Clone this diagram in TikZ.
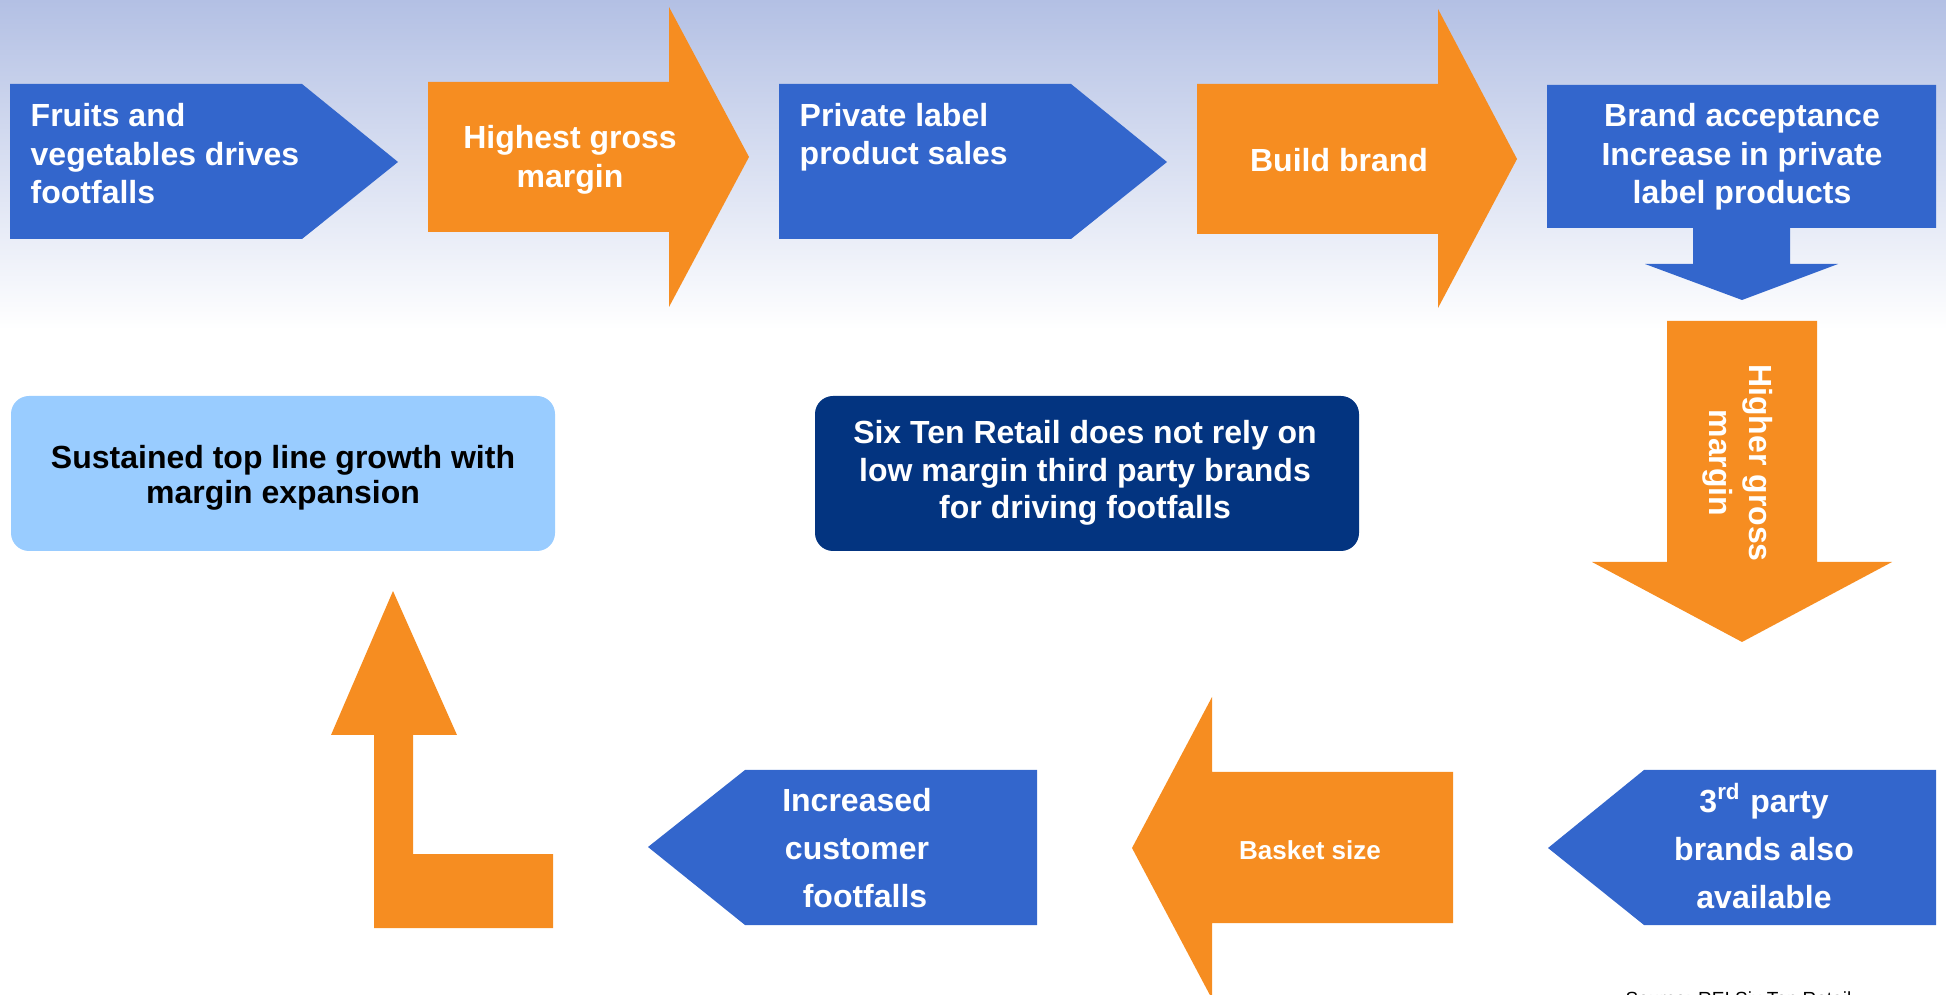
\documentclass[tikz,border=0pt]{standalone}
\usepackage{fontspec}
\setmainfont{Liberation Sans}
\usepackage{tikz}
\usetikzlibrary{positioning}
\definecolor{rblue}{RGB}{51,102,204}
\definecolor{rorange}{RGB}{246,141,33}
\definecolor{rnavy}{RGB}{3,52,128}
\definecolor{rlight}{RGB}{153,204,255}
\definecolor{rsky}{RGB}{179,192,228}
\begin{document}
\begin{tikzpicture}[x=0.01cm,y=-0.01cm,
    txt/.style={text=white,inner sep=0pt,align=center,font=\bfseries\fontsize{9.1}{10.95}\selectfont},
    wide/.style={font=\bfseries\fontsize{9.1}{13.6}\selectfont},
    box/.style={rounded corners=0.18cm}]
    \useasboundingbox (0,0) rectangle (1946,995);
    \clip (0,0) rectangle (1946,995);
    \fill[top color=rsky,bottom color=white] (0,0) rectangle (1946,330);
    % top row
    \fill[rblue] (10,84) -- (302,84) -- (398,162) -- (302,239) -- (10,239) -- cycle;
    \fill[rorange] (428,82) -- (669,82) -- (669,7) -- (749,157) -- (669,307) -- (669,232) -- (428,232) -- cycle;
    \fill[rblue] (779,84) -- (1071,84) -- (1167,162) -- (1071,239) -- (779,239) -- cycle;
    \fill[rorange] (1197,84) -- (1438,84) -- (1438,9) -- (1517,159) -- (1438,308) -- (1438,234) -- (1197,234) -- cycle;
    \fill[rblue] (1547,85) -- (1936,85) -- (1936,228) -- (1790,228) -- (1790,264) -- (1838,264) -- (1742,300)
        -- (1645,264) -- (1693,264) -- (1693,228) -- (1547,228) -- cycle;
    \fill[rorange] (1667,321) -- (1817,321) -- (1817,562) -- (1892,562) -- (1742,642) -- (1592,562) -- (1667,562) -- cycle;
    % bottom row
    \fill[rblue] (1936,770) -- (1644,770) -- (1548,848) -- (1644,925) -- (1936,925) -- cycle;
    \fill[rorange] (1453,772) -- (1212,772) -- (1212,697) -- (1132,848) -- (1212,999) -- (1212,923) -- (1453,923) -- cycle;
    \fill[rblue] (1037,770) -- (745,770) -- (648,847) -- (745,925) -- (1037,925) -- cycle;
    \fill[rorange] (393,591) -- (457,735) -- (413,735) -- (413,854) -- (553,854) -- (553,928) -- (374,928)
        -- (374,735) -- (331,735) -- cycle;
    \fill[rlight,box] (11,396) rectangle (555,551);
    \fill[rnavy,box] (815,396) rectangle (1359,551);
    % labels
    \node[txt,align=left,anchor=west] (fruits) at (30,154) {Fruits and\\vegetables drives\\footfalls};
    \node[txt] (highest) at (570,160) {Highest gross\\margin};
    \node[txt,align=left,anchor=west] (private) at (799,137) {Private label\\product sales};
    \node[txt] (build) at (1339,160) {Build brand};
    \node[txt] (accept) at (1742,157) {Brand acceptance\\Increase in private\\label products};
    \node[txt,rotate=-90,font=\bfseries\fontsize{9.1}{11.4}\selectfont] (higher) at (1738,463) {Higher gross\\margin};
    \node[txt,wide] (third) at (1764,846) {3\textsuperscript{rd} party\\brands also\\available};
    \node[txt,font=\bfseries\fontsize{7.4}{9}\selectfont] (basket) at (1310,850) {Basket size};
    \node[txt,wide] (footfalls) at (857,848) {Increased\\customer\\\hspace{0.16cm}footfalls};
    \node[txt,text=black,font=\bfseries\fontsize{9.1}{9.96}\selectfont] (growth) at (283,478) {Sustained top line growth with\\margin expansion};
    \node[txt,font=\bfseries\fontsize{9.1}{10.67}\selectfont] (retail) at (1085,473) {Six Ten Retail does not rely on\\low margin third party brands\\for driving footfalls};
    \node[inner sep=0pt,anchor=base west,font=\fontsize{5.4}{6.5}\selectfont] (source) at (1625,1005) {Source: REI Six Ten Retail};
\end{tikzpicture}
\end{document}
